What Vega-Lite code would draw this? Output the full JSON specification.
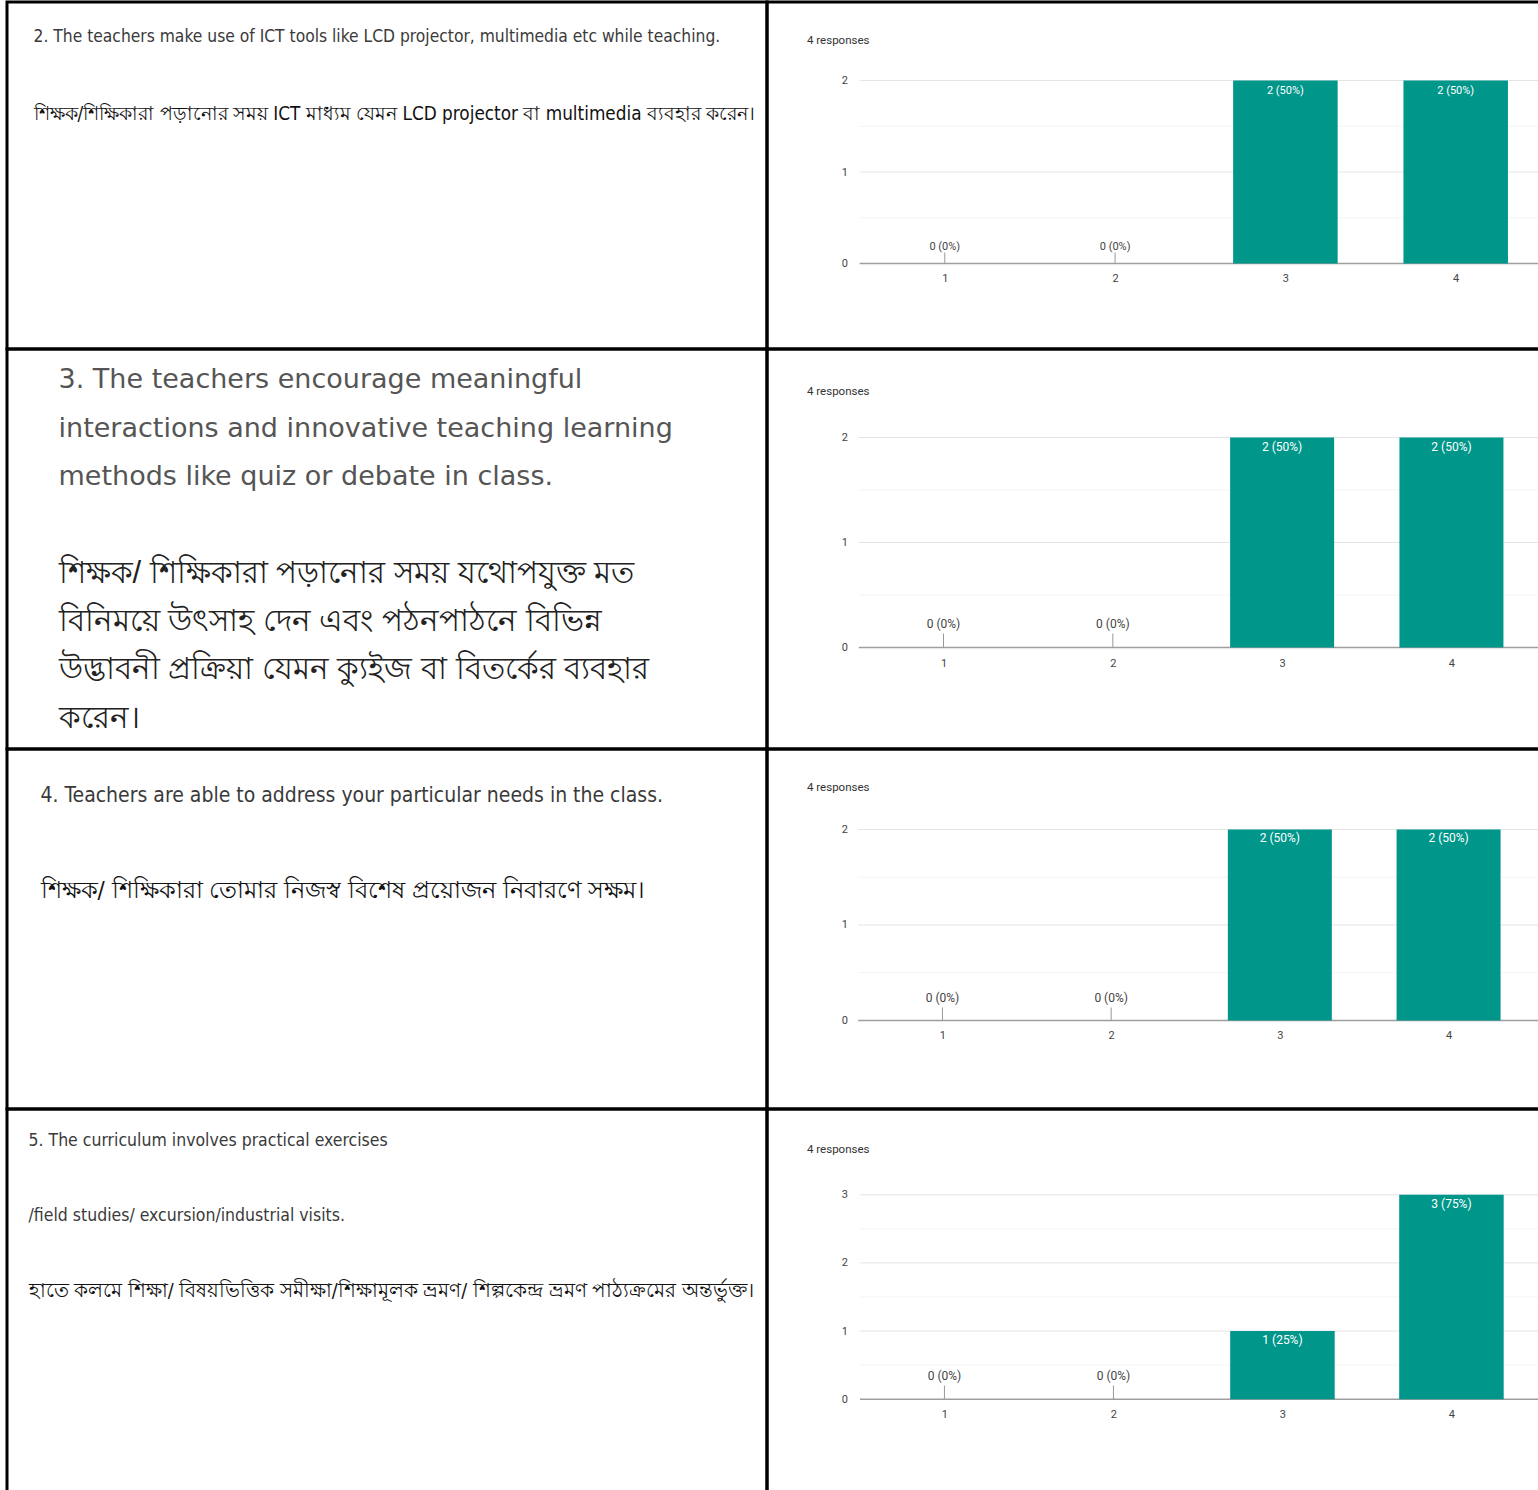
{
  "$schema": "https://vega.github.io/schema/vega-lite/v6.json",
  "padding": {"left": 5, "top": 0, "right": 0, "bottom": 0},
  "background": "white",
  "bounds": "flush",
  "spacing": 0,
  "columns": 2,
  "config": {
    "view": {"stroke": "#000000", "strokeWidth": 3},
    "axis": {"grid": false, "domain": false, "ticks": false, "labelFont": "Roboto", "labelFontSize": 11, "labelColor": "#444444"},
    "title": {"font": "Roboto", "fontSize": 11.5, "fontWeight": "normal", "color": "#333333", "anchor": "start"}
  },
  "concat": [
        {
          "width": 760, "height": 347,
          "data": {"values": [
            {"line": 1, "lang": "en", "text": "2. The teachers make use of ICT tools like LCD projector, multimedia etc while teaching."},
            {"line": 2, "lang": "bn", "text": "শিক্ষক/শিক্ষিকারা পড়ানোর সময় ICT মাধ্যম যেমন LCD projector বা multimedia ব্যবহার করেন।"}
          ]},
          "layer": [
            {"transform": [{"filter": "datum.lang == 'en'"}],
             "mark": {"type": "text", "align": "left", "baseline": "middle", "font": "Liberation Sans Narrow, DejaVu Sans Condensed, Roboto Condensed, Liberation Sans, sans-serif", "fontSize": 17.3, "color": "#3a3a3a"},
             "encoding": {"x": {"datum": 3.49, "type": "quantitative", "scale": {"domain": [0, 100], "nice": false, "zero": false}, "axis": null},
                          "y": {"field": "line", "type": "quantitative", "scale": {"domain": [0.55, 5.056], "reverse": true, "nice": false, "zero": false}, "axis": null},
                          "text": {"field": "text"}}},
            {"transform": [{"filter": "datum.lang == 'bn'"}],
             "mark": {"type": "text", "align": "left", "baseline": "middle", "font": "Liberation Sans Narrow, DejaVu Sans Condensed, Liberation Sans, sans-serif", "fontSize": 18.8, "color": "#111111"},
             "encoding": {"x": {"datum": 3.49, "type": "quantitative", "axis": null},
                          "y": {"field": "line", "type": "quantitative", "axis": null},
                          "text": {"field": "text"}}}
          ]
        },
        {
          "width": 773, "height": 347,
          "title": {"text": "4 responses", "offset": -44.5, "dx": 40},
          "data": {"values": [
            {"rating": 1, "count": 0, "label": "0 (0%)"},
            {"rating": 2, "count": 0, "label": "0 (0%)"},
            {"rating": 3, "count": 2, "label": "2 (50%)"},
            {"rating": 4, "count": 2, "label": "2 (50%)"}
          ]},
          "layer": [
            {"transform": [{"filter": "datum.rating == 1"}], "mark": {"type": "rule", "color": "#f4f4f4", "clip": true},
             "encoding": {"y": {"datum": 0.5, "type": "quantitative", "scale": {"domain": [-0.934, 2.858], "nice": false, "zero": false}},
                          "x": {"datum": 0.5, "type": "quantitative", "scale": {"domain": [-0.044, 4.495], "nice": false, "zero": false, "padding": 0}}, "x2": {"datum": 6}}},
            {"transform": [{"filter": "datum.rating == 1"}], "mark": {"type": "rule", "color": "#f4f4f4", "clip": true},
             "encoding": {"y": {"datum": 1.5, "type": "quantitative"}, "x": {"datum": 0.5, "type": "quantitative"}, "x2": {"datum": 6}}},
            {"transform": [{"filter": "datum.rating == 1"}], "mark": {"type": "rule", "color": "#e4e4e4", "clip": true},
             "encoding": {"y": {"datum": 1, "type": "quantitative"}, "x": {"datum": 0.5, "type": "quantitative"}, "x2": {"datum": 6}}},
            {"transform": [{"filter": "datum.rating == 1"}], "mark": {"type": "rule", "color": "#e4e4e4", "clip": true},
             "encoding": {"y": {"datum": 2, "type": "quantitative"}, "x": {"datum": 0.5, "type": "quantitative"}, "x2": {"datum": 6}}},
            {"transform": [{"filter": "datum.rating == 1"}], "mark": {"type": "rule", "color": "#9e9e9e", "strokeWidth": 1.5, "clip": true},
             "encoding": {"y": {"datum": 0, "type": "quantitative"}, "x": {"datum": 0.5, "type": "quantitative"}, "x2": {"datum": 6}}},
            {"transform": [{"filter": "datum.count == 0"}], "mark": {"type": "rule", "color": "#999999"},
             "encoding": {"x": {"field": "rating", "type": "quantitative"}, "y": {"field": "count", "type": "quantitative"}, "y2": {"datum": 0.12}}},
            {"mark": {"type": "bar", "color": "#00968a", "size": 104.5},
             "encoding": {"x": {"field": "rating", "type": "quantitative", "axis": {"values": [1, 2, 3, 4], "offset": -85.5, "labelPadding": 9, "title": null, "format": "d"}},
                          "y": {"field": "count", "type": "quantitative", "axis": {"values": [0, 1, 2], "offset": -83.5, "labelPadding": 3, "title": null, "format": "d"}},
                          "y2": {"datum": 0}}},
            {"transform": [{"filter": "datum.count > 0"}], "mark": {"type": "text", "baseline": "top", "dy": 4, "color": "#ffffff", "font": "Roboto", "fontSize": 11},
             "encoding": {"x": {"field": "rating", "type": "quantitative"}, "y": {"field": "count", "type": "quantitative"}, "text": {"field": "label"}}},
            {"transform": [{"filter": "datum.count == 0"}], "mark": {"type": "text", "baseline": "bottom", "dy": -12, "color": "#444444", "font": "Roboto", "fontSize": 11},
             "encoding": {"x": {"field": "rating", "type": "quantitative"}, "y": {"field": "count", "type": "quantitative"}, "text": {"field": "label"}}}
          ]
        },
        {
          "width": 760, "height": 400,
          "data": {"values": [
            {"line": 1, "lang": "en", "text": "3. The teachers encourage meaningful"},
            {"line": 2, "lang": "en", "text": "interactions and innovative teaching learning"},
            {"line": 3, "lang": "en", "text": "methods like quiz or debate in class."},
            {"line": 5, "lang": "bn", "text": "শিক্ষক/ শিক্ষিকারা পড়ানোর সময় যথোপযুক্ত মত"},
            {"line": 6, "lang": "bn", "text": "বিনিময়ে উৎসাহ দেন এবং পঠনপাঠনে বিভিন্ন"},
            {"line": 7, "lang": "bn", "text": "উদ্ভাবনী প্রক্রিয়া যেমন ক্যুইজ বা বিতর্কের ব্যবহার"},
            {"line": 8, "lang": "bn", "text": "করেন।"}
          ]},
          "layer": [
            {"transform": [{"filter": "datum.lang == 'en'"}],
             "mark": {"type": "text", "align": "left", "baseline": "middle", "font": "DejaVu Sans", "fontSize": 27, "color": "#555555"},
             "encoding": {"x": {"datum": 6.78, "type": "quantitative", "scale": {"domain": [0, 100], "nice": false, "zero": false}, "axis": null},
                          "y": {"field": "line", "type": "quantitative", "scale": {"domain": [0.348, 8.63], "reverse": true, "nice": false, "zero": false}, "axis": null},
                          "text": {"field": "text"}}},
            {"transform": [{"filter": "datum.lang == 'bn'"}],
             "mark": {"type": "text", "align": "left", "baseline": "middle", "font": "sans-serif", "fontSize": 31, "color": "#222222"},
             "encoding": {"x": {"datum": 6.78, "type": "quantitative", "axis": null},
                          "y": {"field": "line", "type": "quantitative", "axis": null},
                          "text": {"field": "text"}}}
          ]
        },
        {
          "width": 773, "height": 400,
          "title": {"text": "4 responses", "offset": -48, "dx": 40},
          "data": {"values": [
            {"rating": 1, "count": 0, "label": "0 (0%)"},
            {"rating": 2, "count": 0, "label": "0 (0%)"},
            {"rating": 3, "count": 2, "label": "2 (50%)"},
            {"rating": 4, "count": 2, "label": "2 (50%)"}
          ]},
          "layer": [
            {"transform": [{"filter": "datum.rating == 1"}], "mark": {"type": "rule", "color": "#f4f4f4", "clip": true},
             "encoding": {"y": {"datum": 0.5, "type": "quantitative", "scale": {"domain": [-0.967, 2.843], "nice": false, "zero": false}},
                          "x": {"datum": 0.5, "type": "quantitative", "scale": {"domain": [-0.0425, 4.523], "nice": false, "zero": false, "padding": 0}}, "x2": {"datum": 6}}},
            {"transform": [{"filter": "datum.rating == 1"}], "mark": {"type": "rule", "color": "#f4f4f4", "clip": true},
             "encoding": {"y": {"datum": 1.5, "type": "quantitative"}, "x": {"datum": 0.5, "type": "quantitative"}, "x2": {"datum": 6}}},
            {"transform": [{"filter": "datum.rating == 1"}], "mark": {"type": "rule", "color": "#e4e4e4", "clip": true},
             "encoding": {"y": {"datum": 1, "type": "quantitative"}, "x": {"datum": 0.5, "type": "quantitative"}, "x2": {"datum": 6}}},
            {"transform": [{"filter": "datum.rating == 1"}], "mark": {"type": "rule", "color": "#e4e4e4", "clip": true},
             "encoding": {"y": {"datum": 2, "type": "quantitative"}, "x": {"datum": 0.5, "type": "quantitative"}, "x2": {"datum": 6}}},
            {"transform": [{"filter": "datum.rating == 1"}], "mark": {"type": "rule", "color": "#9e9e9e", "strokeWidth": 1.5, "clip": true},
             "encoding": {"y": {"datum": 0, "type": "quantitative"}, "x": {"datum": 0.5, "type": "quantitative"}, "x2": {"datum": 6}}},
            {"transform": [{"filter": "datum.count == 0"}], "mark": {"type": "rule", "color": "#999999"},
             "encoding": {"x": {"field": "rating", "type": "quantitative"}, "y": {"field": "count", "type": "quantitative"}, "y2": {"datum": 0.133}}},
            {"mark": {"type": "bar", "color": "#00968a", "size": 104},
             "encoding": {"x": {"field": "rating", "type": "quantitative", "axis": {"values": [1, 2, 3, 4], "offset": -101.5, "labelPadding": 10, "title": null, "format": "d"}},
                          "y": {"field": "count", "type": "quantitative", "axis": {"values": [0, 1, 2], "offset": -83.5, "labelPadding": 3, "title": null, "format": "d"}},
                          "y2": {"datum": 0}}},
            {"transform": [{"filter": "datum.count > 0"}], "mark": {"type": "text", "baseline": "top", "dy": 4, "color": "#ffffff", "font": "Roboto", "fontSize": 12},
             "encoding": {"x": {"field": "rating", "type": "quantitative"}, "y": {"field": "count", "type": "quantitative"}, "text": {"field": "label"}}},
            {"transform": [{"filter": "datum.count == 0"}], "mark": {"type": "text", "baseline": "bottom", "dy": -16, "color": "#444444", "font": "Roboto", "fontSize": 12},
             "encoding": {"x": {"field": "rating", "type": "quantitative"}, "y": {"field": "count", "type": "quantitative"}, "text": {"field": "label"}}}
          ]
        },
        {
          "width": 760, "height": 360,
          "data": {"values": [
            {"line": 1, "lang": "en", "text": "4. Teachers are able to address your particular needs in the class."},
            {"line": 2, "lang": "bn", "text": "শিক্ষক/ শিক্ষিকারা তোমার নিজস্ব বিশেষ প্রয়োজন নিবারণে সক্ষম।"}
          ]},
          "layer": [
            {"transform": [{"filter": "datum.lang == 'en'"}],
             "mark": {"type": "text", "align": "left", "baseline": "middle", "font": "Liberation Sans Narrow, DejaVu Sans Condensed, Roboto Condensed, Liberation Sans, sans-serif", "fontSize": 21, "color": "#3a3a3a"},
             "encoding": {"x": {"datum": 4.41, "type": "quantitative", "scale": {"domain": [0, 100], "nice": false, "zero": false}, "axis": null},
                          "y": {"field": "line", "type": "quantitative", "scale": {"domain": [0.505, 4.295], "reverse": true, "nice": false, "zero": false}, "axis": null},
                          "text": {"field": "text"}}},
            {"transform": [{"filter": "datum.lang == 'bn'"}],
             "mark": {"type": "text", "align": "left", "baseline": "middle", "font": "Liberation Sans Narrow, DejaVu Sans Condensed, Liberation Sans, sans-serif", "fontSize": 23.8, "color": "#111111"},
             "encoding": {"x": {"datum": 4.41, "type": "quantitative", "axis": null},
                          "y": {"field": "line", "type": "quantitative", "axis": null},
                          "text": {"field": "text"}}}
          ]
        },
        {
          "width": 773, "height": 360,
          "title": {"text": "4 responses", "offset": -44, "dx": 40},
          "data": {"values": [
            {"rating": 1, "count": 0, "label": "0 (0%)"},
            {"rating": 2, "count": 0, "label": "0 (0%)"},
            {"rating": 3, "count": 2, "label": "2 (50%)"},
            {"rating": 4, "count": 2, "label": "2 (50%)"}
          ]},
          "layer": [
            {"transform": [{"filter": "datum.rating == 1"}], "mark": {"type": "rule", "color": "#f4f4f4", "clip": true},
             "encoding": {"y": {"datum": 0.5, "type": "quantitative", "scale": {"domain": [-0.927, 2.843], "nice": false, "zero": false}},
                          "x": {"datum": 0.5, "type": "quantitative", "scale": {"domain": [-0.040, 4.542], "nice": false, "zero": false, "padding": 0}}, "x2": {"datum": 6}}},
            {"transform": [{"filter": "datum.rating == 1"}], "mark": {"type": "rule", "color": "#f4f4f4", "clip": true},
             "encoding": {"y": {"datum": 1.5, "type": "quantitative"}, "x": {"datum": 0.5, "type": "quantitative"}, "x2": {"datum": 6}}},
            {"transform": [{"filter": "datum.rating == 1"}], "mark": {"type": "rule", "color": "#e4e4e4", "clip": true},
             "encoding": {"y": {"datum": 1, "type": "quantitative"}, "x": {"datum": 0.5, "type": "quantitative"}, "x2": {"datum": 6}}},
            {"transform": [{"filter": "datum.rating == 1"}], "mark": {"type": "rule", "color": "#e4e4e4", "clip": true},
             "encoding": {"y": {"datum": 2, "type": "quantitative"}, "x": {"datum": 0.5, "type": "quantitative"}, "x2": {"datum": 6}}},
            {"transform": [{"filter": "datum.rating == 1"}], "mark": {"type": "rule", "color": "#9e9e9e", "strokeWidth": 1.5, "clip": true},
             "encoding": {"y": {"datum": 0, "type": "quantitative"}, "x": {"datum": 0.5, "type": "quantitative"}, "x2": {"datum": 6}}},
            {"transform": [{"filter": "datum.count == 0"}], "mark": {"type": "rule", "color": "#999999"},
             "encoding": {"x": {"field": "rating", "type": "quantitative"}, "y": {"field": "count", "type": "quantitative"}, "y2": {"datum": 0.136}}},
            {"mark": {"type": "bar", "color": "#00968a", "size": 104},
             "encoding": {"x": {"field": "rating", "type": "quantitative", "axis": {"values": [1, 2, 3, 4], "offset": -88.5, "labelPadding": 9, "title": null, "format": "d"}},
                          "y": {"field": "count", "type": "quantitative", "axis": {"values": [0, 1, 2], "offset": -83.5, "labelPadding": 3, "title": null, "format": "d"}},
                          "y2": {"datum": 0}}},
            {"transform": [{"filter": "datum.count > 0"}], "mark": {"type": "text", "baseline": "top", "dy": 4, "color": "#ffffff", "font": "Roboto", "fontSize": 12},
             "encoding": {"x": {"field": "rating", "type": "quantitative"}, "y": {"field": "count", "type": "quantitative"}, "text": {"field": "label"}}},
            {"transform": [{"filter": "datum.count == 0"}], "mark": {"type": "text", "baseline": "bottom", "dy": -15, "color": "#444444", "font": "Roboto", "fontSize": 12},
             "encoding": {"x": {"field": "rating", "type": "quantitative"}, "y": {"field": "count", "type": "quantitative"}, "text": {"field": "label"}}}
          ]
        },
        {
          "width": 760, "height": 383,
          "data": {"values": [
            {"line": 1, "lang": "en", "text": "5. The curriculum involves practical exercises"},
            {"line": 2, "lang": "en", "text": "/field studies/ excursion/industrial visits."},
            {"line": 3, "lang": "bn", "text": "হাতে কলমে শিক্ষা/ বিষয়ভিত্তিক সমীক্ষা/শিক্ষামূলক ভ্রমণ/ শিল্পকেন্দ্র ভ্রমণ পাঠ্যক্রমের অন্তর্ভুক্ত।"}
          ]},
          "layer": [
            {"transform": [{"filter": "datum.lang == 'en'"}],
             "mark": {"type": "text", "align": "left", "baseline": "middle", "font": "Liberation Sans Narrow, DejaVu Sans Condensed, Roboto Condensed, Liberation Sans, sans-serif", "fontSize": 17.5, "color": "#3a3a3a"},
             "encoding": {"x": {"datum": 2.83, "type": "quantitative", "scale": {"domain": [0, 100], "nice": false, "zero": false}, "axis": null},
                          "y": {"field": "line", "type": "quantitative", "scale": {"domain": [0.573, 5.68], "reverse": true, "nice": false, "zero": false}, "axis": null},
                          "text": {"field": "text"}}},
            {"transform": [{"filter": "datum.lang == 'bn'"}],
             "mark": {"type": "text", "align": "left", "baseline": "middle", "font": "Liberation Sans Narrow, DejaVu Sans Condensed, Liberation Sans, sans-serif", "fontSize": 19.6, "color": "#111111"},
             "encoding": {"x": {"datum": 2.83, "type": "quantitative", "axis": null},
                          "y": {"field": "line", "type": "quantitative", "axis": null},
                          "text": {"field": "text"}}}
          ]
        },
        {
          "width": 773, "height": 383,
          "title": {"text": "4 responses", "offset": -46, "dx": 40},
          "data": {"values": [
            {"rating": 1, "count": 0, "label": "0 (0%)"},
            {"rating": 2, "count": 0, "label": "0 (0%)"},
            {"rating": 3, "count": 1, "label": "1 (25%)"},
            {"rating": 4, "count": 3, "label": "3 (75%)"}
          ]},
          "layer": [
            {"transform": [{"filter": "datum.rating == 1"}], "mark": {"type": "rule", "color": "#f4f4f4", "clip": true},
             "encoding": {"y": {"datum": 0.5, "type": "quantitative", "scale": {"domain": [-1.362, 4.259], "nice": false, "zero": false}},
                          "x": {"datum": 0.5, "type": "quantitative", "scale": {"domain": [-0.050, 4.524], "nice": false, "zero": false, "padding": 0}}, "x2": {"datum": 6}}},
            {"transform": [{"filter": "datum.rating == 1"}], "mark": {"type": "rule", "color": "#f4f4f4", "clip": true},
             "encoding": {"y": {"datum": 1.5, "type": "quantitative"}, "x": {"datum": 0.5, "type": "quantitative"}, "x2": {"datum": 6}}},
            {"transform": [{"filter": "datum.rating == 1"}], "mark": {"type": "rule", "color": "#f4f4f4", "clip": true},
             "encoding": {"y": {"datum": 2.5, "type": "quantitative"}, "x": {"datum": 0.5, "type": "quantitative"}, "x2": {"datum": 6}}},
            {"transform": [{"filter": "datum.rating == 1"}], "mark": {"type": "rule", "color": "#e4e4e4", "clip": true},
             "encoding": {"y": {"datum": 1, "type": "quantitative"}, "x": {"datum": 0.5, "type": "quantitative"}, "x2": {"datum": 6}}},
            {"transform": [{"filter": "datum.rating == 1"}], "mark": {"type": "rule", "color": "#e4e4e4", "clip": true},
             "encoding": {"y": {"datum": 2, "type": "quantitative"}, "x": {"datum": 0.5, "type": "quantitative"}, "x2": {"datum": 6}}},
            {"transform": [{"filter": "datum.rating == 1"}], "mark": {"type": "rule", "color": "#e4e4e4", "clip": true},
             "encoding": {"y": {"datum": 3, "type": "quantitative"}, "x": {"datum": 0.5, "type": "quantitative"}, "x2": {"datum": 6}}},
            {"transform": [{"filter": "datum.rating == 1"}], "mark": {"type": "rule", "color": "#9e9e9e", "strokeWidth": 1.5, "clip": true},
             "encoding": {"y": {"datum": 0, "type": "quantitative"}, "x": {"datum": 0.5, "type": "quantitative"}, "x2": {"datum": 6}}},
            {"transform": [{"filter": "datum.count == 0"}], "mark": {"type": "rule", "color": "#999999"},
             "encoding": {"x": {"field": "rating", "type": "quantitative"}, "y": {"field": "count", "type": "quantitative"}, "y2": {"datum": 0.2}}},
            {"mark": {"type": "bar", "color": "#00968a", "size": 104.5},
             "encoding": {"x": {"field": "rating", "type": "quantitative", "axis": {"values": [1, 2, 3, 4], "offset": -92.8, "labelPadding": 9, "title": null, "format": "d"}},
                          "y": {"field": "count", "type": "quantitative", "axis": {"values": [0, 1, 2, 3], "offset": -83.5, "labelPadding": 3, "title": null, "format": "d"}},
                          "y2": {"datum": 0}}},
            {"transform": [{"filter": "datum.count > 0"}], "mark": {"type": "text", "baseline": "top", "dy": 4, "color": "#ffffff", "font": "Roboto", "fontSize": 12},
             "encoding": {"x": {"field": "rating", "type": "quantitative"}, "y": {"field": "count", "type": "quantitative"}, "text": {"field": "label"}}},
            {"transform": [{"filter": "datum.count == 0"}], "mark": {"type": "text", "baseline": "bottom", "dy": -16, "color": "#444444", "font": "Roboto", "fontSize": 12},
             "encoding": {"x": {"field": "rating", "type": "quantitative"}, "y": {"field": "count", "type": "quantitative"}, "text": {"field": "label"}}}
          ]
        }
  ]
}
